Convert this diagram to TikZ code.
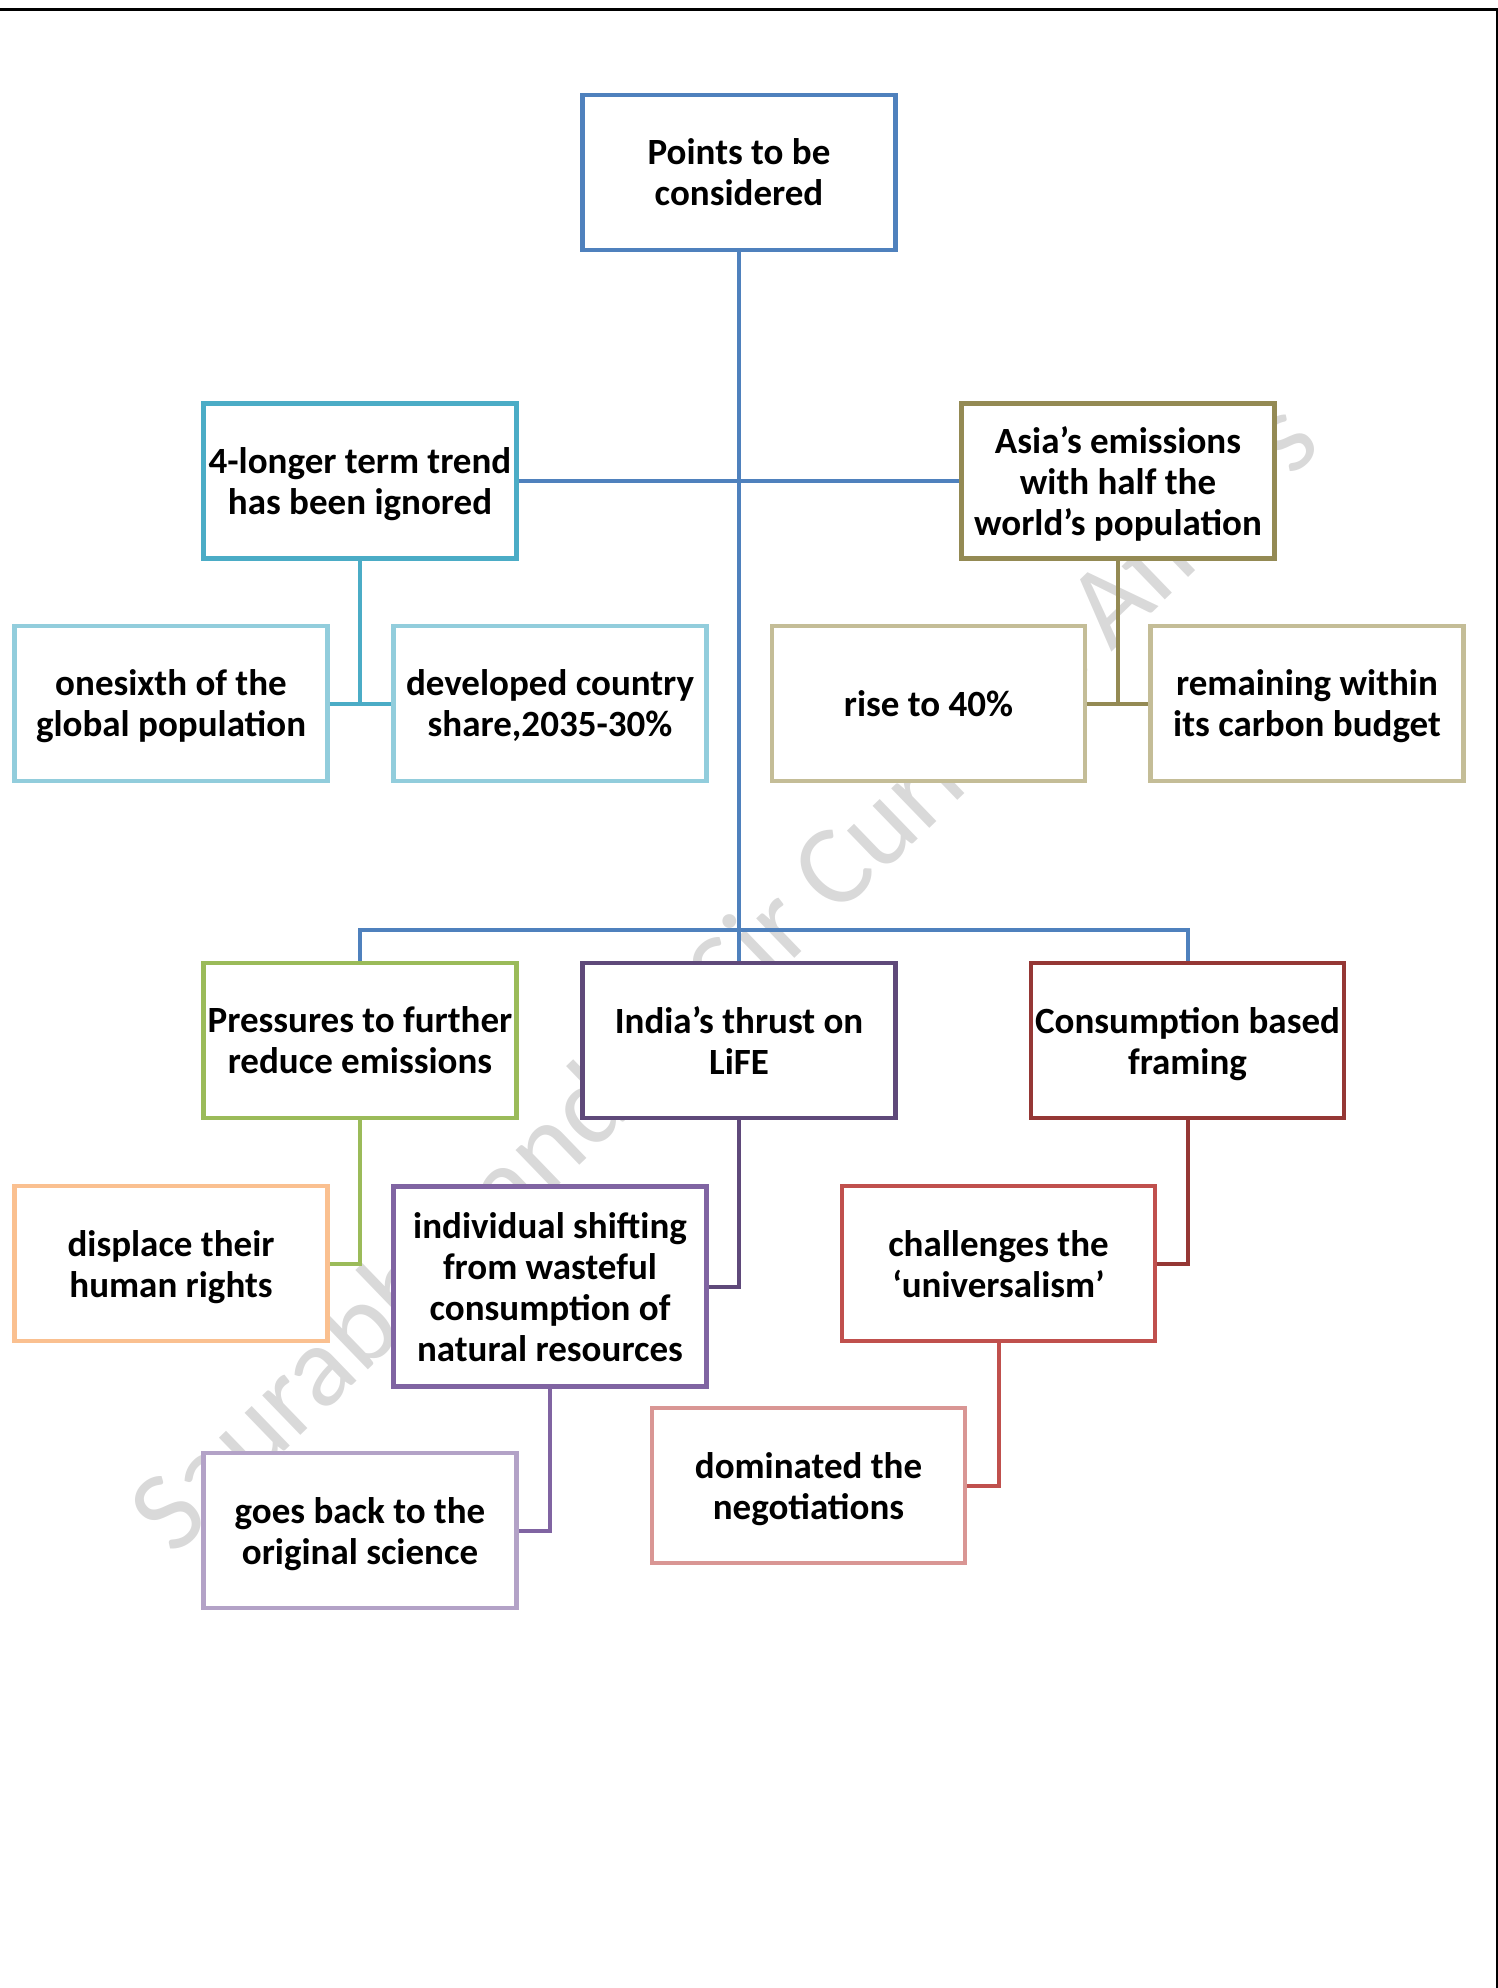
\documentclass[tikz,border=0pt]{standalone}
\usepackage{fontspec}
\setmainfont{Carlito}
\definecolor{mainblue}{HTML}{4F81BD}
\definecolor{aqua}{HTML}{4BACC6}
\definecolor{aqualight}{HTML}{92CDDC}
\definecolor{olive}{HTML}{948A54}
\definecolor{olivelight}{HTML}{C4BD97}
\definecolor{grn}{HTML}{9BBB59}
\definecolor{orng}{HTML}{FAC090}
\definecolor{purpdark}{HTML}{5F497A}
\definecolor{purp}{HTML}{8064A2}
\definecolor{purplight}{HTML}{B3A2C7}
\definecolor{reddark}{HTML}{953735}
\definecolor{rd}{HTML}{C0504D}
\definecolor{redlight}{HTML}{D99694}
\definecolor{wmgray}{HTML}{D9D9D9}
\begin{document}
\begin{tikzpicture}[x=0.5pt,y=-0.5pt,
  box/.style={draw, line width=2.4pt, fill=white, minimum width=156.5pt, minimum height=77.5pt,
    inner sep=0pt, align=center, font=\fontsize{18.5}{20.5}\selectfont\bfseries,
    text depth=0pt},
  link/.style={line width=2pt},
  frame/.style={line width=1.5pt, black}]
\useasboundingbox (0,0) rectangle (1498,1988);
% watermark
\node[rotate=44, text=wmgray, font=\fontsize{57.5}{60}\selectfont, inner sep=0pt] (wm) at (728,980) {Saurabh Pandey Sir Current Affairs};
% page frame
\coordinate (ftl) at (0,9.5);
\coordinate (ftr) at (1498,9.5);
\coordinate (frt) at (1496.5,8);
\coordinate (frb) at (1496.5,1988);
\draw[frame] (ftl) -- (ftr);
\draw[line width=1pt] (frt) -- (frb);
% boxes
\node[box, draw=mainblue] (top) at (739,172.5) {Points to be\\considered};
\node[box, draw=aqua] (lt) at (360,481) {4-longer term trend\\has been ignored};
\node[box, draw=olive] (rt) at (1118,481) {Asia’s emissions\\with half the\\world’s population};
\node[box, draw=aqualight] (c1) at (171,703.5) {onesixth of the\\global population};
\node[box, draw=aqualight] (c2) at (550,703.5) {developed country\\share,2035-30\%};
\node[box, draw=olivelight] (c3) at (928.5,703.5) {rise to 40\%};
\node[box, draw=olivelight] (c4) at (1307,703.5) {remaining within\\its carbon budget};
\node[box, draw=grn] (pr) at (360,1040.5) {Pressures to further\\reduce emissions};
\node[box, draw=purpdark] (in) at (739,1040.5) {India’s thrust on\\LiFE};
\node[box, draw=reddark] (cb) at (1187.5,1040.5) {Consumption based\\framing};
\node[box, draw=orng] (dp) at (171,1263.5) {displace their\\human rights};
\node[box, draw=purp, minimum height=100pt] (iv) at (550,1286.5) {individual shifting\\from wasteful\\consumption of\\natural resources};
\node[box, draw=rd] (ch) at (998.5,1263.5) {challenges the\\‘universalism’};
\node[box, draw=redlight] (dm) at (808.5,1485.5) {dominated the\\negotiations};
\node[box, draw=purplight] (gb) at (360,1530.5) {goes back to the\\original science};
% connectors
\coordinate (bus) at (739,930);
\draw[link, mainblue] (top.south) -- (in.north);
\draw[link, mainblue] (lt.east) -- (rt.west);
\draw[link, mainblue] (pr.north) |- (bus) -| (cb.north);
\draw[link, aqua] (lt.south) -- (lt.south |- c1.east);
\draw[link, aqua] (c1.east) -- (c2.west);
\draw[link, olive] (rt.south) -- (rt.south |- c3.east);
\draw[link, olive] (c3.east) -- (c4.west);
\draw[link, grn] (pr.south) |- (dp.east);
\draw[link, purpdark] (in.south) |- (iv.east);
\draw[link, reddark] (cb.south) |- (ch.east);
\draw[link, purp] (iv.south) |- (gb.east);
\draw[link, rd] (ch.south) |- (dm.east);
\end{tikzpicture}
\end{document}
